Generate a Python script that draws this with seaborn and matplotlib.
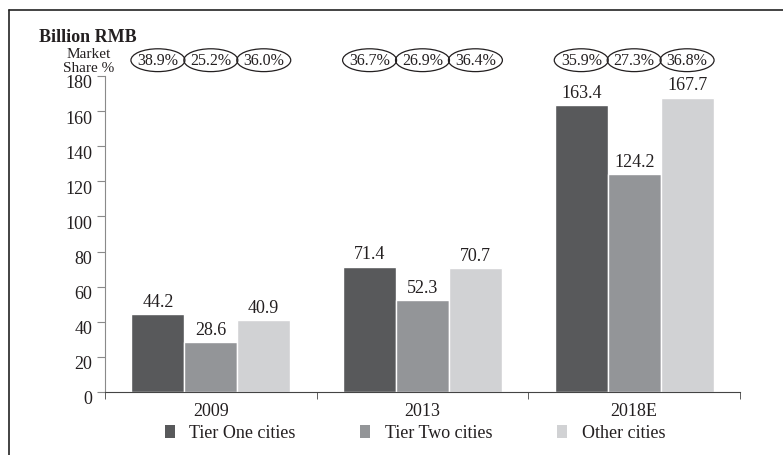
import numpy as np
import pandas as pd
import seaborn as sns
import matplotlib.pyplot as plt
import matplotlib.transforms as mtransforms
from matplotlib.patches import Ellipse, Patch
from matplotlib.lines import Line2D

# data
years = ["2009", "2013", "2018E"]
tiers = ["Tier One cities", "Tier Two cities", "Other cities"]
tier_one = [44.2, 71.4, 163.4]
tier_two = [28.6, 52.3, 124.2]
other = [40.9, 70.7, 167.7]
shares = [["38.9%", "25.2%", "36.0%"],
          ["36.7%", "26.9%", "36.4%"],
          ["35.9%", "27.3%", "36.8%"]]
colors = ["#58595b", "#939598", "#d1d2d4"]

df = pd.DataFrame({
    "year": np.repeat(years, 3),
    "tier": tiers * 3,
    "value": [v for trio in zip(tier_one, tier_two, other) for v in trio],
})

sns.set_style("white")
plt.rcParams["font.family"] = ["Liberation Serif", "DejaVu Serif"]
txt = "#231f20"

fig = plt.figure(figsize=(7.83, 4.56), dpi=100)
ax = fig.add_axes([105 / 783, 1 - 393 / 456, 635 / 783, 316 / 456])

sns.barplot(data=df, x="year", y="value", hue="tier", hue_order=tiers,
            palette=colors, width=0.75, saturation=1, legend=False, ax=ax)

ax.set_xlim(-0.5, 2.5)
ax.set_ylim(0, 180)
ax.set_yticks(range(0, 181, 20))
ax.set_xlabel("")
ax.set_ylabel("")

for c in ax.containers:
    ax.bar_label(c, fmt="%.1f", padding=3, fontsize=13, color=txt)

# market share ellipses above each bar
for i, c in enumerate(ax.containers):
    for j, bar in enumerate(c):
        cx = bar.get_x() + bar.get_width() / 2
        ax.add_patch(Ellipse((cx, 189), 0.255, 13, fill=False, lw=0.9,
                             ec=txt, clip_on=False))
        ax.text(cx, 189, shares[j][i], ha="center", va="center",
                fontsize=11.5, color=txt, clip_on=False)

for s in ["top", "right"]:
    ax.spines[s].set_visible(False)
ax.spines["left"].set_color("#8a8a8a")
ax.spines["bottom"].set_color("#444444")
ax.tick_params(axis="y", direction="out", length=6, color="#8a8a8a",
               labelsize=13, labelcolor=txt, pad=3, left=True)
ax.tick_params(axis="x", which="major", length=0, labelsize=13,
               labelcolor=txt, pad=7)
ax.set_xticks([-0.5, 0.5, 1.5, 2.5], minor=True)
ax.tick_params(axis="x", which="minor", direction="out", length=5,
               color="#444444", bottom=True)

# y tick labels sit a little below their ticks in the reference
shift = mtransforms.ScaledTranslation(0, -5 / 100, fig.dpi_scale_trans)
for lab in ax.get_yticklabels():
    lab.set_transform(lab.get_transform() + shift)

fig.text(39 / 783, 1 - 37 / 456, "Billion RMB", fontsize=13,
         fontweight="bold", va="center", ha="left", color=txt)
fig.text(89 / 783, 1 - 61 / 456, "Market\nShare %", fontsize=11,
         va="center", ha="center", color=txt, linespacing=1.1)

handles = [Patch(facecolor=col, edgecolor="none") for col in colors]
fig.legend(handles, tiers, loc="center", bbox_to_anchor=(415 / 783, 1 - 434 / 456),
           ncol=3, frameon=False, fontsize=13, handlelength=0.55,
           handleheight=0.7, handletextpad=0.8, columnspacing=3.6,
           labelcolor=txt)

# outer frame (left and top edges only)
y0 = 1 - 10.5 / 456
x0 = 9 / 783
fig.add_artist(Line2D([x0, x0], [0, y0], color="#222222", lw=1.2))
fig.add_artist(Line2D([x0, 1], [y0, y0], color="#222222", lw=1.2))

fig.savefig("out.png", dpi=100)
